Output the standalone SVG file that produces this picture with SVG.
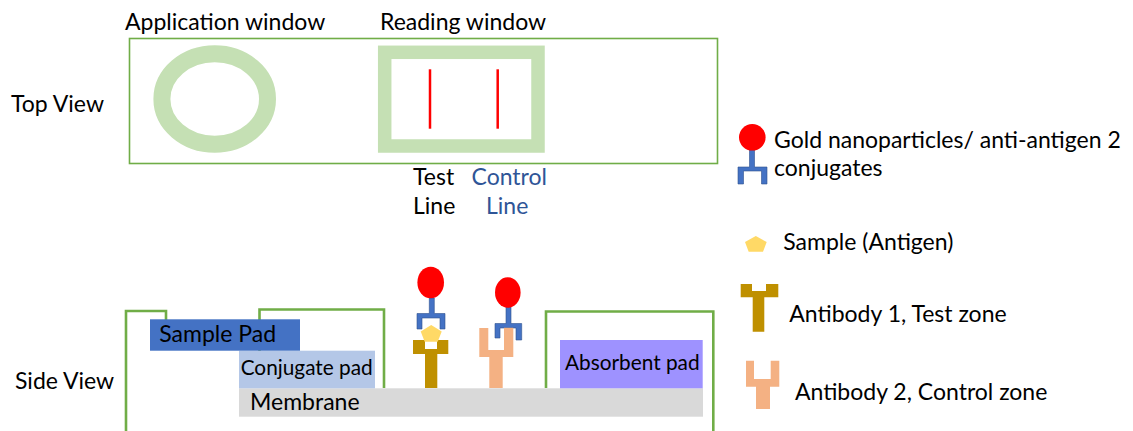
<svg xmlns="http://www.w3.org/2000/svg" width="1133" height="431" viewBox="0 0 1133 431">
  <style>
    text { font-family: Lato, "Open Sans", "Liberation Sans", sans-serif; fill: #000; }
    .lbl { font-size: 23px; }
    .pad { font-size: 20.8px; }
    .blue { fill: #2F5597; }
    .housing { fill: none; stroke: #70AD47; stroke-width: 2.6; }
    .gold { fill: #FF0000; }
    .fork { fill: #4472C4; stroke: #2F528F; stroke-width: 0.6; }
    .ab1 { fill: #BF9000; }
    .ab2 { fill: #F4B183; }
    .antigen { fill: #FFD966; }
  </style>

  <rect width="1133" height="431" fill="#fff"/>

  <!-- Top view of the cassette -->
  <g id="top-view">
    <text class="lbl" x="11" y="112">Top View</text>
    <text class="lbl" x="125" y="30">Application window</text>
    <text class="lbl" x="380" y="30">Reading window</text>
    <rect x="129.5" y="38.5" width="588" height="125" fill="#fff" stroke="#70AD47" stroke-width="1.6"/>
  </g>

  <g id="application-window">
    <ellipse cx="214.7" cy="99" rx="52.8" ry="45.2" fill="none" stroke="#C5E0B4" stroke-width="17"/>
  </g>

  <g id="reading-window">
    <rect x="384.7" y="52.3" width="153.3" height="93.7" fill="none" stroke="#C5E0B4" stroke-width="13.5"/>
  </g>

  <g id="test-line">
    <line x1="430" y1="69.3" x2="430" y2="128.7" stroke="#FF0000" stroke-width="2.5"/>
    <text class="lbl" x="413" y="185">Test</text>
    <text class="lbl" x="413" y="214">Line</text>
  </g>

  <g id="control-line">
    <line x1="497.7" y1="69.3" x2="497.7" y2="128.7" stroke="#FF0000" stroke-width="2.5"/>
    <text class="lbl blue" x="471.5" y="185">Control</text>
    <text class="lbl blue" x="486" y="214">Line</text>
  </g>

  <!-- Side view: housing outline -->
  <g id="side-view-label">
    <text class="lbl" x="15" y="389">Side View</text>
  </g>

  <g id="housing">
    <path class="housing" d="M126,431 V311 H166 V320"/>
    <path class="housing" d="M259.5,351 V309.5 H384 V388"/>
    <path class="housing" d="M546,388 V311.5 H713.3 V431"/>
  </g>

  <!-- Side view: strip layers -->
  <g id="membrane">
    <rect x="239" y="388.3" width="464" height="28.4" fill="#D9D9D9"/>
    <text class="lbl" x="250" y="410">Membrane</text>
  </g>

  <g id="conjugate-pad">
    <rect x="239" y="350.7" width="136" height="37.6" fill="#B4C7E7"/>
    <text class="pad" x="240.7" y="375">Conjugate pad</text>
  </g>

  <g id="sample-pad">
    <rect x="150" y="319.3" width="150" height="31.4" fill="#4472C4"/>
    <text class="lbl" x="159.3" y="342.3">Sample Pad</text>
  </g>

  <g id="absorbent-pad">
    <rect x="560" y="340" width="142.7" height="48.3" fill="#9E92FF"/>
    <text class="pad" x="565" y="370">Absorbent pad</text>
  </g>

  <!-- Side view: test zone complex (antibody 1 + antigen + conjugate) -->
  <g id="test-zone-complex">
    <path class="ab1" d="M413,340 H425 V349 H437 V340 H448.3 V354 H437.3 V388 H425 V354 H413 Z"/>
    <polygon class="antigen" points="431.2,325 441.7,331.5 437.7,341.7 424.7,341.7 420.7,331.5"/>
    <path class="fork" d="M429.3,298 H434.3 V313.5 H445 V329 H440 V318 H422 V329 H417 V313.5 H429.3 Z"/>
    <ellipse class="gold" cx="430.7" cy="282.5" rx="13.3" ry="15.8"/>
  </g>

  <!-- Side view: control zone complex (antibody 2 + conjugate) -->
  <g id="control-zone-complex">
    <path class="fork" d="M506,307 H511 V323.5 H521.7 V340 H516 V328 H500 V338 H495 V323.5 H506 Z"/>
    <ellipse class="gold" cx="507.8" cy="292.5" rx="12.8" ry="15.2"/>
    <path class="ab2" d="M479.3,328 H488.3 V350 H504 V327.7 H513.3 V357 H502.7 V388 H489.3 V357 H479.3 Z"/>
  </g>

  <!-- Legend -->
  <g id="legend-conjugate">
    <path class="fork" d="M749.5,150 H754.5 V167 H767 V184 H761.5 V171 H743.5 V184 H738 V167 H749.5 Z"/>
    <circle class="gold" cx="752.3" cy="137.3" r="13.3"/>
    <text class="lbl" x="774" y="148.3">Gold nanoparticles/ anti-antigen 2</text>
    <text class="lbl" x="774" y="175.5">conjugates</text>
  </g>

  <g id="legend-antigen">
    <polygon class="antigen" points="755.8,236 766.7,242 763,251.7 748.7,251.7 745,242"/>
    <text class="lbl" x="783.3" y="250">Sample (Antigen)</text>
  </g>

  <g id="legend-antibody-1">
    <path class="ab1" d="M740.7,284 H752 V291 H766 V284 H778.3 V297.3 H764.3 V331.7 H752.7 V297.3 H740.7 Z"/>
    <text class="lbl" x="789.3" y="321.7">Antibody 1, Test zone</text>
  </g>

  <g id="legend-antibody-2">
    <path class="ab2" d="M746,360.7 H754 V379 H770.7 V360.7 H779.3 V386.7 H770 V409 H756 V386.7 H746 Z"/>
    <text class="lbl" x="795" y="400">Antibody 2, Control zone</text>
  </g>
</svg>
